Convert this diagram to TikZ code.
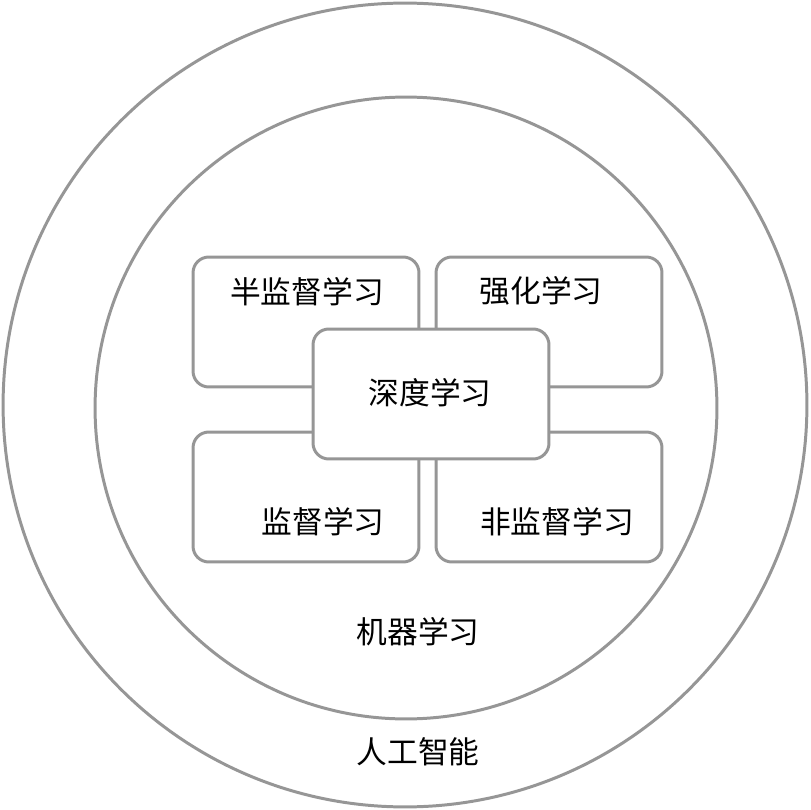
\documentclass[tikz,border=0pt]{standalone}
\usepackage{fontspec}
\setmainfont{Noto Sans CJK SC}
\usetikzlibrary{positioning}
\definecolor{lngray}{RGB}{150,150,150}

\begin{document}
\begin{tikzpicture}[x=0.02cm, y=-0.02cm,
  ring/.style={circle, draw=lngray, line width=1.7pt, inner sep=0pt},
  fbox/.style={rectangle, rounded corners=9pt, draw=lngray, line width=1.7pt,
               fill=white, minimum width=4.52cm, minimum height=2.6cm, inner sep=0pt},
  cbox/.style={fbox, minimum width=4.72cm},
  lbl/.style={font=\fontsize{17.5pt}{20pt}\selectfont, inner sep=0pt}
]
\useasboundingbox (0,0) rectangle (810,810);

% Circles
\node[ring, minimum size=16.08cm] (ai) at (405,405) {};
\node[ring, minimum size=12.44cm] (ml) at (406,408) {};

% Learning boxes
\node[fbox] (semi)  at (306,322) {};
\node[fbox] (rl)    at (549,322) {};
\node[fbox] (sup)   at (306,497) {};
\node[fbox] (unsup) at (549,497) {};
\node[cbox] (dl)    at (431,394) {};

% Labels
\node[lbl] (tsemi)  at (307,292) {半监督学习};
\node[lbl] (trl)    at (541,291) {强化学习};
\node[lbl] (tdl)    at (430,393) {深度学习};
\node[lbl] (tsup)   at (323,522) {监督学习};
\node[lbl] (tunsup) at (557,522) {非监督学习};
\node[lbl] (tml)    at (418,632) {机器学习};
\node[lbl] (tai)    at (418,752) {人工智能};
\end{tikzpicture}
\end{document}
